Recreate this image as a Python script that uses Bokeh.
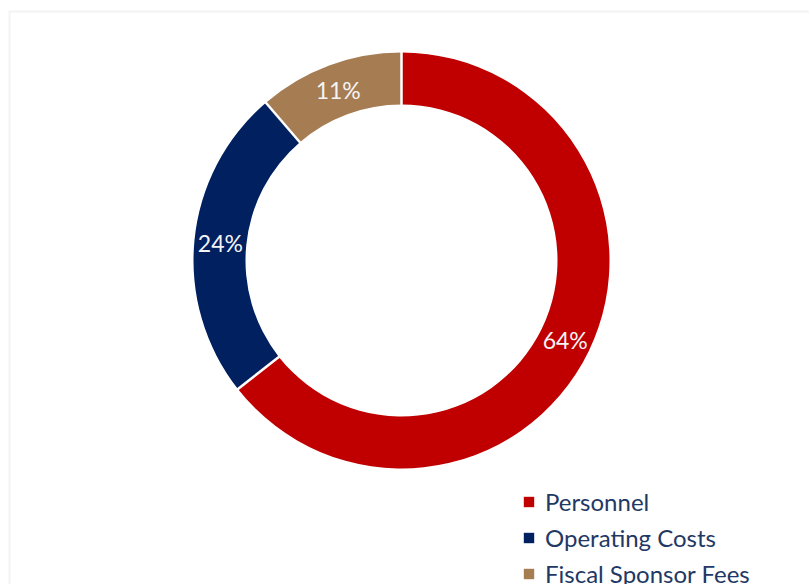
import math
from bokeh.plotting import figure
from bokeh.models import Range1d, ColumnDataSource, Legend, LegendItem, BoxAnnotation
from bokeh.core.properties import value
from bokeh.embed import file_html
from bokeh.resources import INLINE

categories = ["Personnel", "Operating Costs", "Fiscal Sponsor Fees"]
shares = [64.4, 24.3, 11.3]
colors = ["#C00000", "#002060", "#A67C52"]

W, H = 809, 584
cx, cy = 401, H - 260
r_out, r_in = 208, 156

total = sum(shares)
starts, ends, mids, labels = [], [], [], []
cum = 0.0
for s in shares:
    a0 = math.pi / 2 - 2 * math.pi * cum / total
    cum += s
    a1 = math.pi / 2 - 2 * math.pi * cum / total
    starts.append(a0)
    ends.append(a1)
    mids.append((a0 + a1) / 2)
    labels.append(f"{round(s / total * 100):d}%")

r_lab = (r_out + r_in) / 2
src = ColumnDataSource(dict(
    cat=categories, start=starts, end=ends, color=colors,
    x=[cx] * len(shares), y=[cy] * len(shares),
    lx=[cx + r_lab * math.cos(m) for m in mids],
    ly=[cy + r_lab * math.sin(m) for m in mids],
    label=labels,
))
sep = ColumnDataSource(dict(
    x0=[cx + (r_in - 2) * math.cos(a) for a in starts],
    y0=[cy + (r_in - 2) * math.sin(a) for a in starts],
    x1=[cx + (r_out + 2) * math.cos(a) for a in starts],
    y1=[cy + (r_out + 2) * math.sin(a) for a in starts],
))

p = figure(width=W, height=H, x_range=Range1d(0, W), y_range=Range1d(0, H),
           output_backend="svg", toolbar_location=None, min_border=0)
p.axis.visible = False
p.grid.visible = False
p.outline_line_color = None
p.background_fill_color = "white"

frame = BoxAnnotation(left=9, right=W + 20, top=H - 11, bottom=-20,
                      fill_alpha=0, line_color="#d6d6d6", line_width=2)
p.add_layout(frame)

wr = p.annular_wedge(x="x", y="y", inner_radius=r_in, outer_radius=r_out,
                     start_angle="start", end_angle="end", direction="clock",
                     fill_color="color", line_color=None, source=src)
p.segment(x0="x0", y0="y0", x1="x1", y1="y1", source=sep,
          line_color="white", line_width=2.5)

p.text(x="lx", y="ly", text="label", source=src, text_align="center",
       text_baseline="middle", text_color="#f4f4f4",
       text_font=value("Lato"), text_font_size="23px")

legend = Legend(
    items=[LegendItem(label=c, renderers=[wr], index=i) for i, c in enumerate(categories)],
    location=(522, -4), orientation="vertical",
    glyph_width=13, glyph_height=13, label_standoff=10, label_height=24,
    label_text_font="Lato", label_text_font_size="24px", label_text_color="#1F3864",
    spacing=7, padding=0, margin=0, border_line_color=None,
    background_fill_alpha=0,
)
p.add_layout(legend)

open("out.html", "w").write(file_html(p, INLINE))
